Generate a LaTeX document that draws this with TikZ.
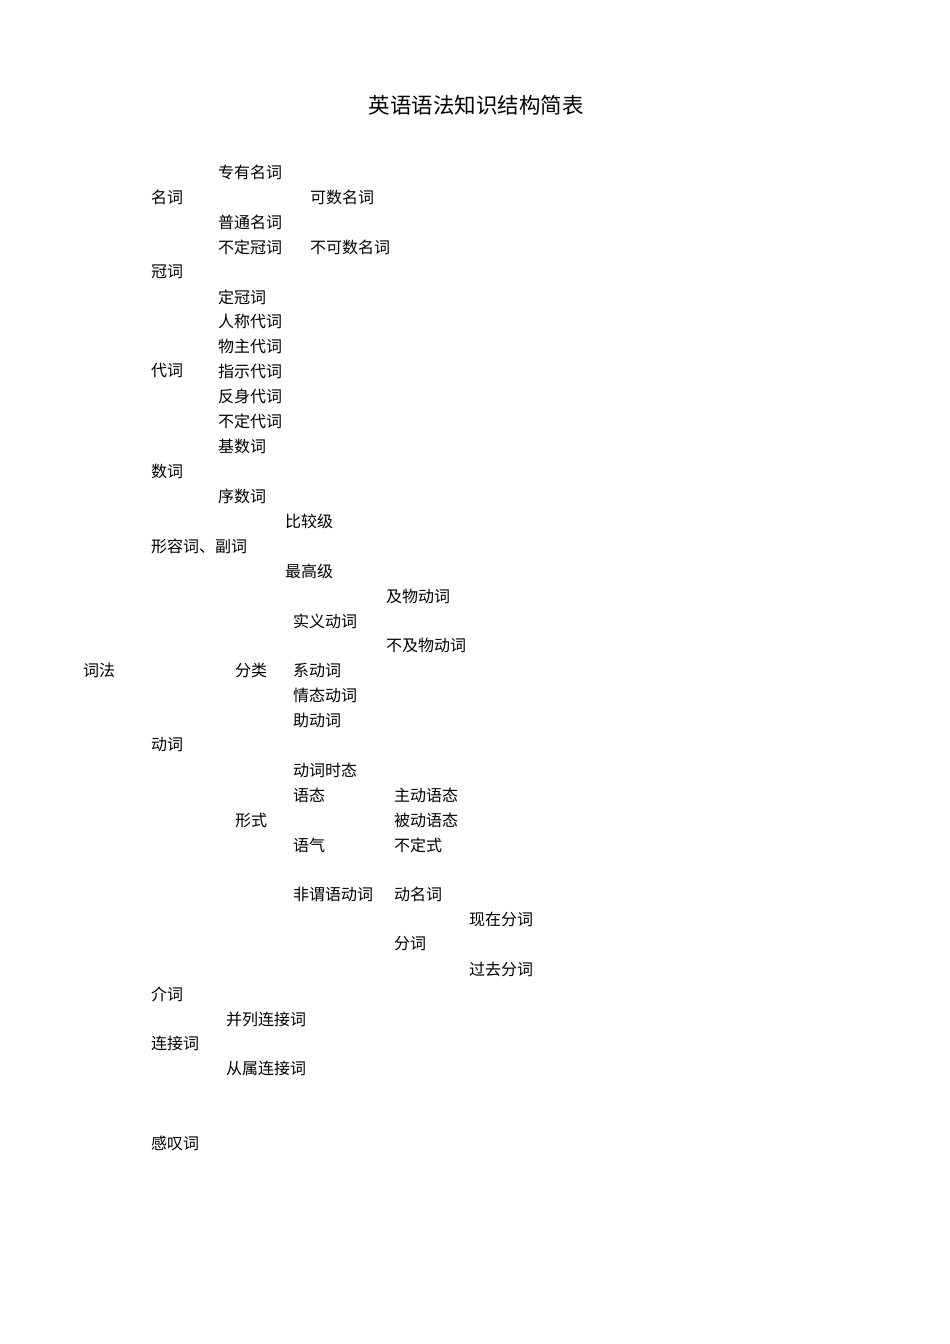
\documentclass[tikz,border=0pt]{standalone}
\usepackage{fontspec}
\setmainfont{Noto Sans CJK SC}
\usetikzlibrary{positioning}
\tikzset{%
    word/.style={anchor=west, inner sep=0pt, font=\fontsize{16}{16}\selectfont},
    heading/.style={inner sep=0pt, font=\fontsize{21.5}{22}\selectfont}
}
\begin{document}
\begin{tikzpicture}[x=1pt, y=-1pt]

    \useasboundingbox (0, 0) rectangle (950, 1344);

    % Title
    \node[heading] (title) at (476, 105) {英语语法知识结构简表};

    % Nouns
    \node[word] (zhuanyou) at (218, 172) {专有名词};
    \node[word] (mingci) at (151, 197) {名词};
    \node[word] (keshu) at (310, 197) {可数名词};
    \node[word] (putong) at (218, 222) {普通名词};
    \node[word] (buding) at (218, 247) {不定冠词};
    \node[word] (bukeshu) at (310, 247) {不可数名词};

    % Articles
    \node[word] (guanci) at (151, 272) {冠词};
    \node[word] (dingguan) at (218, 297) {定冠词};

    % Pronouns
    \node[word] (renchen) at (218, 321) {人称代词};
    \node[word] (wuzhu) at (218, 346) {物主代词};
    \node[word] (daici) at (151, 371) {代词};
    \node[word] (zhishi) at (218, 371) {指示代词};
    \node[word] (fanshen) at (218, 396) {反身代词};
    \node[word] (budingdai) at (218, 421) {不定代词};

    % Numerals
    \node[word] (jishu) at (218, 446) {基数词};
    \node[word] (shuci) at (151, 471) {数词};
    \node[word] (xushu) at (218, 496) {序数词};

    % Adjectives and adverbs
    \node[word] (bijiao) at (285, 521) {比较级};
    \node[word] (xingrong) at (151, 546) {形容词、副词};
    \node[word] (zuigao) at (285, 571) {最高级};

    % Verbs: classes
    \node[word] (jiwu) at (386, 596) {及物动词};
    \node[word] (shiyi) at (293, 621) {实义动词};
    \node[word] (bujiwu) at (386, 645) {不及物动词};
    \node[word] (cifa) at (83, 670) {词法};
    \node[word] (fenlei) at (235, 670) {分类};
    \node[word] (xidong) at (293, 670) {系动词};
    \node[word] (qingtai) at (293, 695) {情态动词};
    \node[word] (zhudong) at (293, 720) {助动词};
    \node[word] (dongci) at (151, 745) {动词};

    % Verbs: forms
    \node[word] (shitai) at (293, 770) {动词时态};
    \node[word] (yutai) at (293, 795) {语态};
    \node[word] (zhudongyu) at (394, 795) {主动语态};
    \node[word] (xingshi) at (235, 820) {形式};
    \node[word] (beidong) at (394, 820) {被动语态};
    \node[word] (yuqi) at (293, 845) {语气};
    \node[word] (budingshi) at (394, 845) {不定式};

    % Non-finite verbs
    \node[word] (feiwei) at (293, 894) {非谓语动词};
    \node[word] (dongming) at (394, 894) {动名词};
    \node[word] (xianzai) at (469, 919) {现在分词};
    \node[word] (fenci) at (394, 944) {分词};
    \node[word] (guoqu) at (469, 969) {过去分词};

    % Prepositions, conjunctions, interjections
    \node[word] (jieci) at (151, 994) {介词};
    \node[word] (binglie) at (226, 1019) {并列连接词};
    \node[word] (lianjie) at (151, 1043) {连接词};
    \node[word] (congshu) at (226, 1068) {从属连接词};
    \node[word] (gantan) at (151, 1143) {感叹词};

\end{tikzpicture}
\end{document}
